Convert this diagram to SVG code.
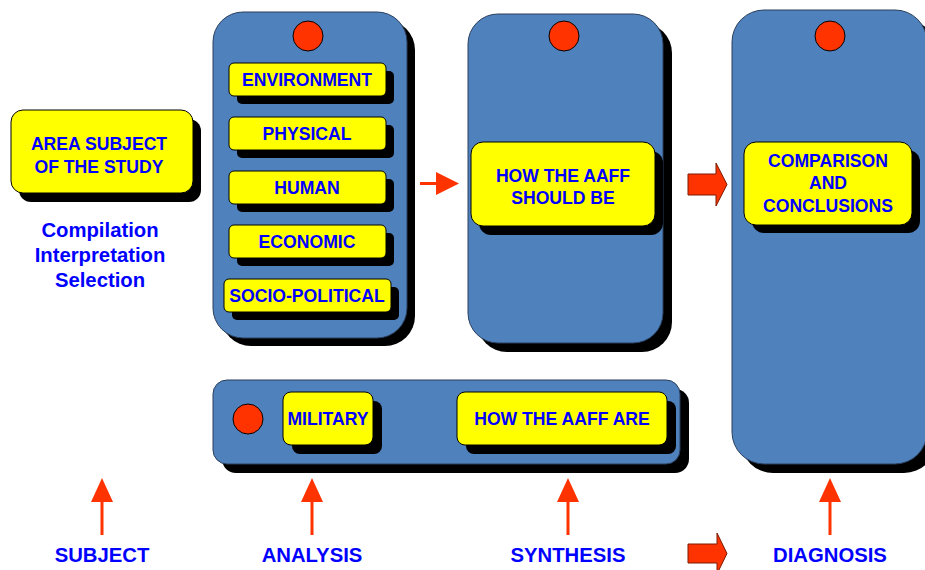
<svg xmlns="http://www.w3.org/2000/svg" width="925" height="570" viewBox="0 0 925 570">
<style>
.blue{fill:#4F81BD;stroke:#2a3f5c;stroke-width:1}
.shd{fill:#000}
.yel{fill:#FFFF00;stroke:#000;stroke-width:1}
.dot{fill:#FF3300;stroke:#000;stroke-width:1}
.t{font-family:"Liberation Sans",Arial,sans-serif;font-weight:bold;font-size:17.6px;fill:#0000FF;text-anchor:middle}
.t20{font-size:20.3px}
.red{fill:#FF3300}
.blk{fill:#FF3300;stroke:#7a1a00;stroke-width:1}
.shaft{stroke:#FF3300;stroke-width:3}
</style>
<rect width="925" height="570" fill="#fff"/>

<g id="node-analysis">
<rect class="shd" x="221" y="20" width="194" height="326" rx="30"/>
<rect class="blue" x="213" y="12" width="194" height="326" rx="30"/>
<circle class="dot" cx="308" cy="36" r="15"/>
</g>
<g id="node-environment">
<rect class="shd" x="237" y="71" width="157" height="33" rx="5"/>
<rect class="yel" x="229" y="63" width="157" height="33" rx="5"/>
<text class="t" x="307" y="86">ENVIRONMENT</text>
</g>
<g id="node-physical">
<rect class="shd" x="237" y="125" width="157" height="33" rx="5"/>
<rect class="yel" x="229" y="117" width="157" height="33" rx="5"/>
<text class="t" x="307" y="140">PHYSICAL</text>
</g>
<g id="node-human">
<rect class="shd" x="237" y="179" width="157" height="33" rx="5"/>
<rect class="yel" x="229" y="171" width="157" height="33" rx="5"/>
<text class="t" x="307" y="194">HUMAN</text>
</g>
<g id="node-economic">
<rect class="shd" x="237" y="233" width="157" height="33" rx="5"/>
<rect class="yel" x="229" y="225" width="157" height="33" rx="5"/>
<text class="t" x="307" y="248">ECONOMIC</text>
</g>
<g id="node-sociopolitical">
<rect class="shd" x="232" y="287" width="167" height="33" rx="5"/>
<rect class="yel" x="224" y="279" width="167" height="33" rx="5"/>
<text class="t" x="307" y="302">SOCIO-POLITICAL</text>
</g>

<g id="node-synthesis">
<rect class="shd" x="477" y="23" width="195" height="329" rx="30"/>
<rect class="blue" x="468" y="14" width="195" height="329" rx="30"/>
<circle class="dot" cx="564" cy="36" r="15"/>
</g>
<g id="node-should-be">
<rect class="shd" x="479" y="151" width="184" height="84" rx="12"/>
<rect class="yel" x="471" y="142" width="184" height="84" rx="12"/>
<text class="t" x="563" y="182">HOW THE AAFF</text>
<text class="t" x="563" y="204">SHOULD BE</text>
</g>

<g id="node-diagnosis">
<rect class="shd" x="741" y="19" width="195" height="454" rx="32"/>
<rect class="blue" x="732" y="10" width="195" height="454" rx="32"/>
<circle class="dot" cx="830" cy="36" r="15"/>
</g>
<g id="node-comparison">
<rect class="shd" x="752" y="150" width="168" height="83" rx="12"/>
<rect class="yel" x="744" y="142" width="168" height="83" rx="12"/>
<text class="t" x="828" y="167">COMPARISON</text>
<text class="t" x="828" y="189">AND</text>
<text class="t" x="828" y="212">CONCLUSIONS</text>
</g>

<g id="node-area-subject">
<rect class="shd" x="19" y="119" width="182" height="83" rx="12"/>
<rect class="yel" x="11" y="110" width="182" height="83" rx="12"/>
<text class="t" x="99" y="150">AREA SUBJECT</text>
<text class="t" x="99" y="173">OF THE STUDY</text>
</g>
<g id="node-compilation">
<text class="t t20" x="100" y="237">Compilation</text>
<text class="t t20" x="100" y="262">Interpretation</text>
<text class="t t20" x="100" y="287">Selection</text>
</g>

<g id="node-military-panel">
<rect class="shd" x="222" y="389" width="467" height="84" rx="14"/>
<rect class="blue" x="213" y="380" width="467" height="84" rx="14"/>
<circle class="dot" cx="248" cy="419" r="15"/>
</g>
<g id="node-military">
<rect class="shd" x="292" y="401" width="90" height="53" rx="8"/>
<rect class="yel" x="283" y="392" width="90" height="53" rx="8"/>
<text class="t" x="328" y="425">MILITARY</text>
</g>
<g id="node-aaff-are">
<rect class="shd" x="466" y="401" width="210" height="53" rx="8"/>
<rect class="yel" x="457" y="392" width="210" height="53" rx="8"/>
<text class="t" x="562" y="425">HOW THE AAFF ARE</text>
</g>

<g id="label-subject"><text class="t t20" x="102" y="562">SUBJECT</text></g>
<g id="label-analysis"><text class="t t20" x="312" y="562">ANALYSIS</text></g>
<g id="label-synthesis"><text class="t t20" x="568" y="562">SYNTHESIS</text></g>
<g id="label-diagnosis"><text class="t t20" x="830" y="562">DIAGNOSIS</text></g>

<g id="connectors">
<line class="shaft" x1="420" y1="183.5" x2="438" y2="183.5" stroke-width="2.5"/>
<polygon class="red" points="436,172 459,183.5 436,195"/>
<polygon class="blk" points="688,174 716,174 716,163 727,184.5 716,206 716,195 688,195"/>
<polygon class="blk" points="688,544 717,544 717,533 727,553.5 717,574 717,563 688,563"/>
<line class="shaft" x1="102" y1="535" x2="102" y2="500"/>
<polygon class="red" points="91,502 102,478 113,502"/>
<line class="shaft" x1="312" y1="535" x2="312" y2="500"/>
<polygon class="red" points="301,502 312,478 323,502"/>
<line class="shaft" x1="568" y1="535" x2="568" y2="500"/>
<polygon class="red" points="557,502 568,478 579,502"/>
<line class="shaft" x1="830" y1="535" x2="830" y2="500"/>
<polygon class="red" points="819,502 830,478 841,502"/>
</g>
</svg>
